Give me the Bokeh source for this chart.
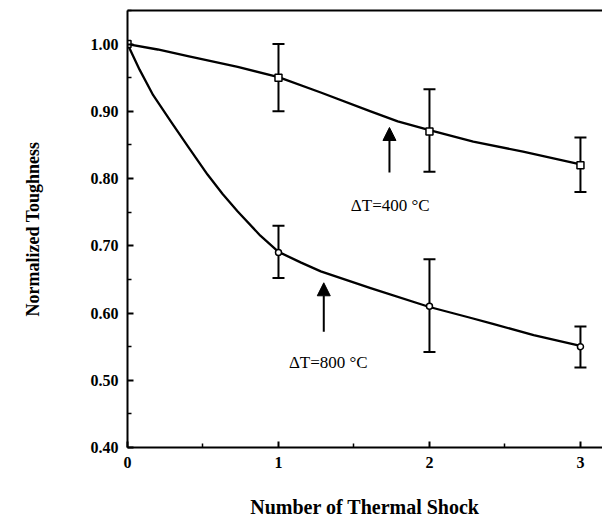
from bokeh.plotting import figure
from bokeh.models import (ColumnDataSource, Whisker, TeeHead, Arrow, NormalHead,
                          Range1d, FixedTicker, LinearAxis, Label, NumeralTickFormatter)
from bokeh.embed import file_html
from bokeh.resources import INLINE

# ---- data ----
shocks = [0, 1, 2, 3]
tough_400 = [1.00, 0.95, 0.87, 0.82]
upper_400 = [1.00, 1.00, 0.933, 0.861]
lower_400 = [1.00, 0.90, 0.81, 0.78]

shocks_800 = [1, 2, 3]
tough_800 = [0.69, 0.61, 0.55]
upper_800 = [0.73, 0.68, 0.58]
lower_800 = [0.652, 0.542, 0.519]

# smooth fitted curves
curve400_x = [0, 0.20, 0.40, 0.73, 1.00, 1.28, 1.61, 1.79, 2.00, 2.29, 2.62, 3.00]
curve400_y = [1.00, 0.992, 0.982, 0.966, 0.951, 0.928, 0.900, 0.885, 0.872, 0.855, 0.840, 0.821]
curve800_x = [0, 0.08, 0.17, 0.29, 0.40, 0.53, 0.63, 0.73, 0.88, 1.00, 1.15, 1.28, 1.61, 2.00, 2.27, 2.42, 2.69, 3.00]
curve800_y = [1.00, 0.962, 0.924, 0.884, 0.848, 0.806, 0.777, 0.751, 0.715, 0.691, 0.675, 0.662, 0.637, 0.609, 0.593, 0.584, 0.567, 0.551]

x_ticks = [0, 1, 2, 3]
x_minor = [0.5, 1.5, 2.5]
y_ticks = [0.4, 0.5, 0.6, 0.7, 0.8, 0.9, 1.0]
y_minor = [0.45, 0.55, 0.65, 0.75, 0.85, 0.95, 1.05]

x_title = "Number of Thermal Shock"
y_title = "Normalized Toughness"
labels = ["\u0394T=400 \u00b0C", "\u0394T=800 \u00b0C"]
arrow_x = [1.735, 1.30]
arrow_y0 = [0.809, 0.572]
arrow_y1 = [0.876, 0.645]
label_x = [1.74, 1.33]
label_y = [0.76, 0.527]

SERIF = "Liberation Serif"

p = figure(width=602, height=532, output_backend="svg", toolbar_location=None,
           x_range=Range1d(0, 3.146), y_range=Range1d(0.40, 1.05),
           min_border_left=127, min_border_right=0, min_border_top=10,
           min_border_bottom=85, x_axis_label=x_title, y_axis_label=y_title)
p.outline_line_color = None
p.grid.visible = False
p.background_fill_color = "white"
p.border_fill_color = "white"

for ax in (p.xaxis[0], p.yaxis[0]):
    ax.axis_line_width = 2
    ax.axis_line_color = "black"
    ax.major_tick_in = 6
    ax.major_tick_out = 0
    ax.minor_tick_in = 4
    ax.minor_tick_out = 0
    ax.major_tick_line_width = 2
    ax.minor_tick_line_width = 1.5
    ax.major_label_text_font = SERIF
    ax.major_label_text_font_style = "bold"
    ax.major_label_text_font_size = "16px"
    ax.major_label_text_color = "black"
    ax.axis_label_text_font = SERIF
    ax.axis_label_text_font_style = "bold"
    ax.axis_label_text_color = "black"

p.xaxis.axis_label_text_font_size = "20px"
p.yaxis.axis_label_text_font_size = "18px"
p.xaxis.ticker = FixedTicker(ticks=x_ticks, minor_ticks=x_minor)
p.yaxis.ticker = FixedTicker(ticks=y_ticks, minor_ticks=y_minor)
p.yaxis.formatter = NumeralTickFormatter(format="0.00")
p.xaxis.major_label_standoff = 9
p.yaxis.major_label_standoff = 9
p.xaxis.axis_label_standoff = 25
p.yaxis.axis_label_standoff = 45

top = LinearAxis(ticker=FixedTicker(ticks=[]), axis_line_width=2,
                 major_tick_in=0, major_tick_out=0, minor_tick_in=0, minor_tick_out=0,
                 major_label_text_font_size="0px")
p.add_layout(top, "above")

# curves
p.line(curve400_x, curve400_y, line_width=2.3, line_color="black", line_join="round")
p.line(curve800_x, curve800_y, line_width=2.3, line_color="black", line_join="round")

# error bars
src400 = ColumnDataSource(dict(x=shocks[1:], upper=upper_400[1:], lower=lower_400[1:]))
src800 = ColumnDataSource(dict(x=shocks_800, upper=upper_800, lower=lower_800))
for src in (src400, src800):
    w = Whisker(source=src, base="x", upper="upper", lower="lower",
                line_width=2, line_color="black",
                upper_head=TeeHead(size=12, line_width=2),
                lower_head=TeeHead(size=12, line_width=2))
    p.add_layout(w)

# markers
p.scatter(shocks, tough_400, marker="square", size=7, fill_color="white",
          line_color="black", line_width=1.5)
p.scatter(shocks_800, tough_800, marker="circle", size=6, fill_color="white",
          line_color="black", line_width=1.5)

# arrows and labels
for i in range(2):
    p.add_layout(Arrow(x_start=arrow_x[i], y_start=arrow_y0[i], x_end=arrow_x[i], y_end=arrow_y1[i],
                       line_width=2, line_color="black",
                       end=NormalHead(size=13, fill_color="black", line_color="black")))
    p.add_layout(Label(x=label_x[i], y=label_y[i], text=labels[i], text_align="center",
                       text_baseline="middle", text_font=SERIF, text_font_size="17px",
                       text_color="black"))

open("out.html", "w").write(file_html(p, INLINE))
